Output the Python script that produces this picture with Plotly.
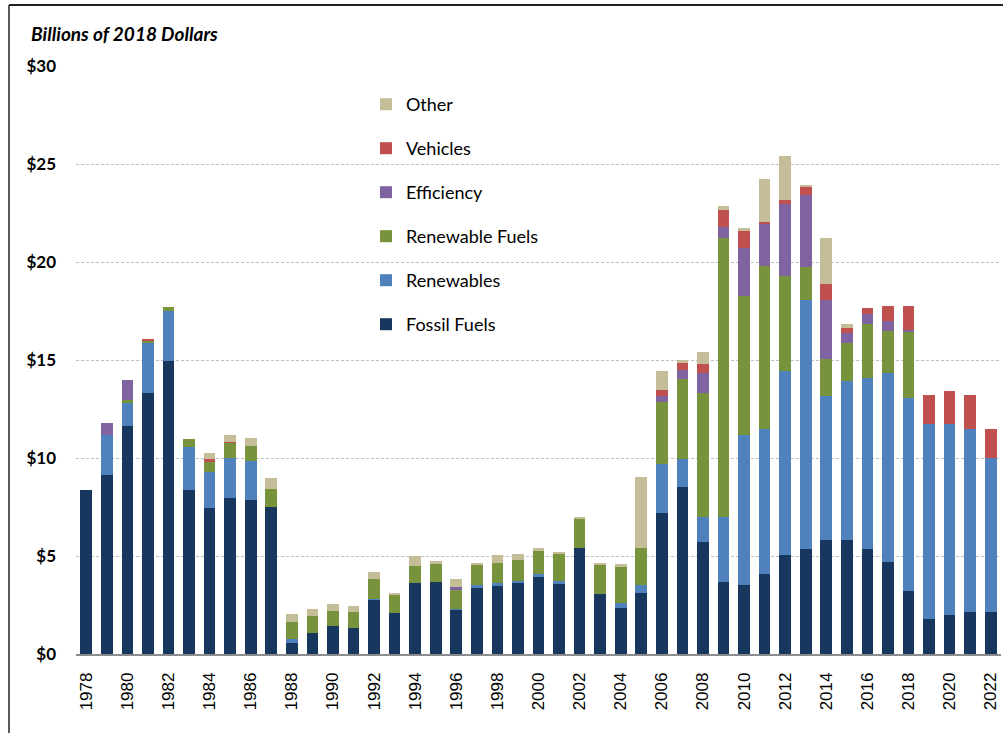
import plotly.graph_objects as go

years = list(range(1978, 2023))

fossil_fuels = [8.35, 9.13, 11.65, 13.33, 14.96, 8.35, 7.43, 7.94, 7.87, 7.50,
                0.56, 1.09, 1.42, 1.33, 2.76, 2.10, 3.61, 3.67, 2.26, 3.37,
                3.47, 3.61, 3.95, 3.61, 5.40, 3.05, 2.34, 3.11, 7.18, 8.54,
                5.70, 3.67, 3.53, 4.06, 5.04, 5.34, 5.82, 5.82, 5.37, 4.70,
                3.20, 1.81, 2.01, 2.12, 2.12]
renewables = [0, 2.06, 1.15, 2.57, 2.52, 2.23, 1.86, 2.08, 1.96, 0,
              0.19, 0, 0, 0, 0.03, 0, 0, 0, 0.04, 0.15,
              0.15, 0.11, 0.15, 0.10, 0, 0, 0.26, 0.41, 2.53, 1.39,
              1.27, 3.30, 7.63, 7.41, 9.41, 12.70, 7.33, 8.09, 8.73, 9.64,
              9.85, 9.90, 9.70, 9.36, 7.88]
renewable_fuels = [0, 0, 0.17, 0.08, 0.21, 0.37, 0.54, 0.75, 0.80, 0.92,
                   0.90, 0.86, 0.76, 0.80, 1.02, 0.89, 0.88, 0.94, 0.96, 1.00,
                   1.01, 1.09, 1.16, 1.37, 1.48, 1.48, 1.86, 1.88, 3.15, 4.10,
                   6.34, 14.26, 7.11, 8.31, 4.85, 1.71, 1.92, 1.98, 2.74, 2.12,
                   3.41, 0, 0, 0, 0]
efficiency = [0, 0.61, 1.03, 0, 0, 0, 0, 0, 0, 0,
              0, 0, 0, 0, 0, 0, 0, 0, 0.15, 0,
              0, 0, 0, 0, 0, 0, 0, 0, 0.28, 0.47,
              1.03, 0.57, 2.44, 2.16, 3.65, 3.65, 2.99, 0.50, 0.50, 0.52,
              0.09, 0, 0, 0, 0]
vehicles = [0, 0, 0, 0.06, 0, 0, 0.10, 0.05, 0, 0,
            0, 0, 0, 0, 0, 0, 0, 0, 0, 0,
            0, 0, 0, 0, 0, 0, 0, 0, 0.34, 0.34,
            0.47, 0.84, 0.90, 0.10, 0.21, 0.43, 0.84, 0.24, 0.33, 0.79,
            1.22, 1.48, 1.69, 1.71, 1.48]
other = [0, 0, 0, 0, 0, 0, 0.33, 0.34, 0.37, 0.58,
         0.38, 0.35, 0.35, 0.30, 0.35, 0.12, 0.50, 0.12, 0.44, 0.14,
         0.42, 0.31, 0.14, 0.13, 0.12, 0.11, 0.14, 3.63, 0.97, 0.14,
         0.58, 0.21, 0.10, 2.20, 2.27, 0.12, 2.30, 0.21, 0, 0,
         0, 0, 0, 0, 0]

series_names = ["Fossil Fuels", "Renewables", "Renewable Fuels", "Efficiency", "Vehicles", "Other"]
series_values = [fossil_fuels, renewables, renewable_fuels, efficiency, vehicles, other]
series_colors = ["#17375E", "#4F81BD", "#77933C", "#8064A2", "#C0504D", "#C4BD97"]

x_tick_years = list(range(1978, 2023, 2))
y_tick_values = [0, 5, 10, 15, 20, 25, 30]
y_tick_labels = ["$0", "$5", "$10", "$15", "$20", "$25", "$30"]

fig = go.Figure()
n = len(series_names)
for i, (name, vals, col) in enumerate(zip(series_names, series_values, series_colors)):
    fig.add_trace(go.Bar(
        x=years, y=vals, name=name, legendgroup=name, legendrank=n - i,
        marker=dict(color=col, line=dict(width=0)),
    ))

W, H = 1003, 733
ml, mr, mt, mb = 76, 2, 66, 79
pw = W - ml - mr
ph = H - mt - mb

def px_x(px):
    return (px - ml) / pw

def px_y(py):
    return (H - mb - py) / ph

fig.update_layout(
    width=W, height=H,
    margin=dict(l=ml, r=mr, t=mt, b=mb),
    barmode="stack", bargap=0.43,
    plot_bgcolor="white", paper_bgcolor="white",
    font=dict(family="Lato, Liberation Sans, sans-serif", color="#000000"),
    showlegend=True,
    legend=dict(
        x=px_x(366), y=px_y(86), xanchor="left", yanchor="top",
        traceorder="grouped", tracegroupgap=17.6,
        font=dict(family="Lato, sans-serif", size=18, color="#000000"),
        bgcolor="rgba(0,0,0,0)",
    ),
    xaxis=dict(
        range=[1977.5, 2022.5], tickmode="array", tickvals=x_tick_years,
        ticktext=[str(y) for y in x_tick_years], tickangle=-90,
        tickfont=dict(family="Liberation Sans, Arial, sans-serif", size=17, color="#000000"),
        showgrid=False, showline=True, linecolor="#8c8c8c", linewidth=1.5,
        ticks="", ticklabelstandoff=10, zeroline=False,
    ),
    yaxis=dict(
        range=[0, 30], tickmode="array", tickvals=y_tick_values, ticktext=y_tick_labels,
        tickfont=dict(family="Lato, sans-serif", size=17, color="#000000", weight="bold"),
        showgrid=True, gridcolor="#bfbfbf", gridwidth=1, griddash="3px,2px",
        zeroline=False, showline=False, ticks="", ticklabelstandoff=19,
    ),
    annotations=[dict(
        text="<b><i>Billions of 2018 Dollars</i></b>", xref="paper", yref="paper",
        x=px_x(29), y=px_y(34), xanchor="left", yanchor="middle", showarrow=False,
        font=dict(family="Lato, sans-serif", size=19, color="#000000"),
    )],
    shapes=[
        dict(type="line", xref="paper", yref="paper", x0=px_x(9), x1=px_x(1003),
             y0=px_y(5), y1=px_y(5), line=dict(color="#222222", width=2)),
        dict(type="line", xref="paper", yref="paper", x0=px_x(9), x1=px_x(9),
             y0=px_y(5), y1=px_y(733), line=dict(color="#222222", width=1.5)),
    ],
)

fig.write_html(
    "out.html",
    config={"displayModeBar": False},
    post_script="document.body.style.margin='0';document.body.style.overflow='hidden';",
)
